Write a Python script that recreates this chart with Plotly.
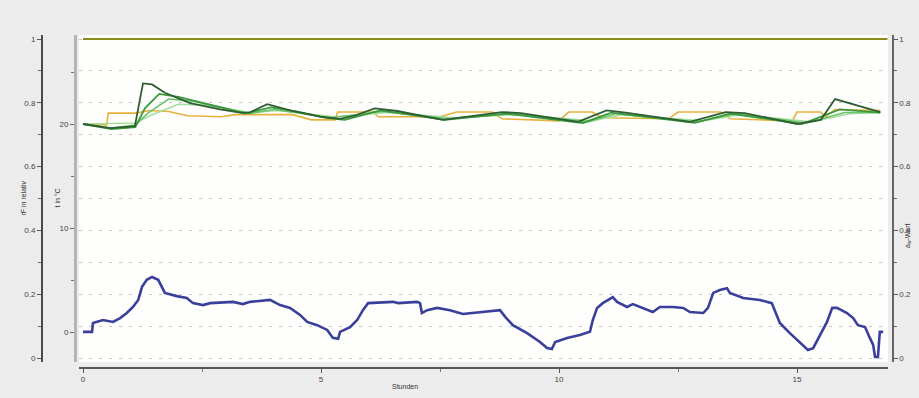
import plotly.graph_objects as go

# ---- data ------------------------------------------------------------
# time axis in hours
hours_dark = [0.0, 0.57, 1.09, 1.26, 1.45, 1.72, 2.25, 2.88, 3.3, 3.5, 3.87, 4.35, 4.98, 5.4, 5.71,
              6.13, 6.6, 7.56, 8.8, 9.2, 10.4, 11.0, 11.4, 12.75, 13.5, 13.9, 15.0, 15.5, 15.8, 16.1, 16.75]
temp_dark = [20.0, 19.6, 19.8, 23.9, 23.8, 23.0, 22.0, 21.4, 21.1, 21.1, 21.9, 21.3, 20.7, 20.5, 20.8,
             21.5, 21.25, 20.4, 21.15, 21.05, 20.2, 21.3, 21.1, 20.2, 21.15, 21.05, 20.0, 20.4, 22.4, 22.0, 21.15]

hours_mid = [0.0, 0.6, 1.1, 1.3, 1.6, 2.0, 2.9, 3.4, 3.95, 4.5, 5.1, 5.5, 6.25, 7.6, 8.9, 10.5,
             11.1, 12.85, 13.6, 15.1, 15.9, 16.75]
temp_mid = [20.0, 19.5, 19.7, 21.5, 22.9, 22.6, 21.6, 21.0, 21.6, 21.2, 20.6, 20.4, 21.3, 20.4, 21.0, 20.1,
            21.1, 20.1, 21.0, 20.0, 21.4, 21.1]

hours_light = [0.0, 0.6, 1.1, 1.35, 1.8, 2.3, 3.0, 3.5, 4.0, 5.2, 6.3, 7.7, 9.0, 10.6, 11.2, 12.9,
               13.7, 15.2, 16.0, 16.75]
temp_light = [20.0, 19.6, 19.9, 21.0, 22.4, 22.2, 21.5, 21.0, 21.4, 20.6, 21.2, 20.5, 21.0, 20.2, 21.0, 20.2,
              21.0, 20.1, 21.1, 21.1]

hours_pale = [0.0, 1.1, 1.4, 2.0, 2.6, 3.5, 4.1, 5.3, 6.4, 7.8, 9.1, 10.7, 11.3, 13.0, 13.8, 15.3, 16.1, 16.75]
temp_pale = [20.0, 20.1, 20.8, 21.9, 21.8, 21.1, 21.3, 20.7, 21.1, 20.6, 20.9, 20.3, 20.9, 20.3, 20.9, 20.2,
             21.0, 21.1]

hours_ref = [0.0, 0.5, 0.53, 1.1, 1.4, 1.8, 2.2, 2.9, 3.2, 4.4, 4.8, 5.3, 5.35, 6.1, 6.2, 7.5, 7.85, 8.6, 8.8,
             10.0, 10.2, 10.7, 10.9, 12.3, 12.5, 13.4, 13.6, 14.9, 15.0, 15.5, 15.6, 15.8, 16.75]
temp_ref = [20.0, 19.9, 21.05, 21.05, 21.3, 21.2, 20.8, 20.7, 20.9, 20.9, 20.4, 20.4, 21.15, 21.15, 20.7, 20.7,
            21.15, 21.15, 20.5, 20.3, 21.15, 21.15, 20.6, 20.5, 21.15, 21.15, 20.5, 20.3, 21.15, 21.15, 20.7,
            21.4, 21.3]

hours_blue = [0.00, 0.19, 0.21, 0.42, 0.63, 0.78, 0.92, 1.05, 1.16, 1.24, 1.34, 1.45, 1.58, 1.66, 1.72, 1.97,
              2.18, 2.31, 2.52, 2.67, 3.15, 3.36, 3.51, 3.93, 4.14, 4.35, 4.56, 4.71, 4.92, 5.13, 5.25, 5.36,
              5.40, 5.61, 5.76, 5.88, 5.99, 6.51, 6.62, 7.02, 7.08, 7.12, 7.23, 7.44, 7.71, 7.98, 8.19, 8.55,
              8.76, 8.87, 9.03, 9.33, 9.60, 9.75, 9.85, 9.92, 10.17, 10.44, 10.65, 10.71, 10.80, 10.92, 11.13,
              11.22, 11.43, 11.55, 11.76, 11.97, 12.12, 12.39, 12.61, 12.75, 13.03, 13.13, 13.24, 13.38, 13.53,
              13.59, 13.87, 14.22, 14.47, 14.54, 14.64, 14.85, 15.06, 15.23, 15.34, 15.48, 15.63, 15.74, 15.84,
              16.05, 16.18, 16.28, 16.43, 16.53, 16.60, 16.64, 16.70, 16.74, 16.81]
value_blue = [0.082, 0.082, 0.110, 0.119, 0.113, 0.125, 0.141, 0.160, 0.182, 0.223, 0.245, 0.254, 0.245, 0.223,
              0.204, 0.194, 0.188, 0.172, 0.166, 0.172, 0.176, 0.169, 0.176, 0.182, 0.166, 0.157, 0.135, 0.113,
              0.103, 0.088, 0.063, 0.060, 0.082, 0.097, 0.119, 0.150, 0.172, 0.176, 0.172, 0.176, 0.172, 0.141,
              0.150, 0.157, 0.150, 0.138, 0.141, 0.147, 0.150, 0.129, 0.103, 0.078, 0.050, 0.031, 0.028, 0.050,
              0.063, 0.072, 0.082, 0.119, 0.157, 0.172, 0.191, 0.176, 0.160, 0.169, 0.157, 0.144, 0.160, 0.160,
              0.157, 0.144, 0.141, 0.157, 0.204, 0.213, 0.219, 0.204, 0.188, 0.182, 0.172, 0.144, 0.110, 0.078,
              0.050, 0.025, 0.031, 0.072, 0.113, 0.157, 0.157, 0.141, 0.125, 0.103, 0.097, 0.063, 0.041, 0.003,
              0.003, 0.082, 0.082]

hours_limit = [0.0, 16.9]
value_limit = [1.0, 1.0]

x_ticks = [0, 5, 10, 15]
rel_ticks = [0, 0.2, 0.4, 0.6, 0.8, 1]
rel_labels = ["0", "0.2", "0.4", "0.6", "0.8", "1"]
temp_ticks = [0, 10, 20]

# ---- figure ------------------------------------------------------------
W, H = 919, 398
font = "Liberation Sans, Arial, sans-serif"
tick_font = dict(family=font, size=8, color="#444")

fig = go.Figure()

fig.add_trace(go.Scatter(x=hours_limit, y=value_limit, mode="lines", yaxis="y",
                         line=dict(color="#8c8c1e", width=2), showlegend=False))
fig.add_trace(go.Scatter(x=hours_ref, y=temp_ref, mode="lines", yaxis="y2",
                         line=dict(color="#e6b23c", width=1.6), showlegend=False))
fig.add_trace(go.Scatter(x=hours_pale, y=temp_pale, mode="lines", yaxis="y2",
                         line=dict(color="#a6dea0", width=1.6), showlegend=False))
fig.add_trace(go.Scatter(x=hours_light, y=temp_light, mode="lines", yaxis="y2",
                         line=dict(color="#6cc46a", width=1.6), showlegend=False))
fig.add_trace(go.Scatter(x=hours_mid, y=temp_mid, mode="lines", yaxis="y2",
                         line=dict(color="#3a9a3c", width=1.8), showlegend=False))
fig.add_trace(go.Scatter(x=hours_dark, y=temp_dark, mode="lines", yaxis="y2",
                         line=dict(color="#2f5e33", width=1.8), showlegend=False))
fig.add_trace(go.Scatter(x=hours_blue, y=value_blue, mode="lines", yaxis="y",
                         line=dict(color="#3b3f9c", width=2.6), showlegend=False))

# pixel geometry of the plotting area
px_x0, px_per_h = 83, 47.6
left_px, right_px = 79, 888
top_px, bot_px = 35, 362
rel0_px, rel_per = 358, 319
t0_px, t_per = 332, 10.4

x_range = [(left_px - px_x0) / px_per_h, (right_px - px_x0) / px_per_h]
rel_range = [(rel0_px - bot_px) / rel_per, (rel0_px - top_px) / rel_per]
t_range = [(t0_px - bot_px) / t_per, (t0_px - top_px) / t_per]
y_dom = [1 - bot_px / H, 1 - top_px / H]

grid = dict(showgrid=True, gridcolor="#c4c4c4", griddash="3px,7px", gridwidth=1.3)

fig.update_layout(
    width=W, height=H,
    margin=dict(l=0, r=0, t=0, b=0),
    paper_bgcolor="#ececec",
    plot_bgcolor="#fefefc",
    font=dict(family=font),
    xaxis=dict(domain=[left_px / W, right_px / W], range=x_range, anchor="free",
               position=(H - 368) / H, showline=True, linecolor="#555", linewidth=1.5,
               tickvals=x_ticks, ticks="outside", ticklen=4, tickcolor="#555",
               tickfont=tick_font, showgrid=False, zeroline=False,
               minor=dict(tickvals=[2.5, 7.5, 12.5], ticks="outside", ticklen=3, tickcolor="#777")),
    yaxis=dict(domain=y_dom, range=rel_range, anchor="free", position=42 / W, side="left",
               showline=True, linecolor="#4a4a4a", linewidth=2,
               tickvals=rel_ticks, ticktext=rel_labels, ticks="outside", ticklen=4, tickcolor="#555",
               tickfont=tick_font, zeroline=False,
               minor=dict(dtick=0.1, tick0=0, ticks="outside", ticklen=3, tickcolor="#666", **grid),
               **grid),
    yaxis2=dict(domain=y_dom, range=t_range, overlaying="y", anchor="free", position=75 / W,
                side="left", showline=True, linecolor="#b4b4b4", linewidth=3,
                tickvals=temp_ticks, ticks="outside", ticklen=4, tickcolor="#666",
                tickfont=tick_font, showgrid=False, zeroline=False,
                minor=dict(tickvals=[5, 15, 25], ticks="outside", ticklen=3, tickcolor="#777")),
    yaxis3=dict(domain=y_dom, range=rel_range, overlaying="y", anchor="free", position=893 / W,
                side="right", showline=True, linecolor="#666", linewidth=1.5,
                tickvals=rel_ticks, ticktext=rel_labels, ticks="outside", ticklen=4, tickcolor="#555",
                tickfont=tick_font, showgrid=False, zeroline=False,
                minor=dict(dtick=0.1, tick0=0, ticks="outside", ticklen=3, tickcolor="#666")),
)

# invisible trace so the right-hand axis is drawn
fig.add_trace(go.Scatter(x=[0], y=[0], yaxis="y3", mode="markers",
                         marker=dict(opacity=0), showlegend=False, hoverinfo="skip"))

label_font = dict(family=font, size=7, color="#333")
fig.add_annotation(x=405 / W, y=1 - 392 / H, xref="paper", yref="paper", text="Stunden",
                   showarrow=False, font=label_font)
fig.add_annotation(x=17 / W, y=1 - 198 / H, xref="paper", yref="paper", text="rF in relativ",
                   showarrow=False, textangle=-90, font=label_font)
fig.add_annotation(x=51 / W, y=1 - 198 / H, xref="paper", yref="paper", text="t in °C",
                   showarrow=False, textangle=-90, font=label_font)
fig.add_annotation(x=914 / W, y=1 - 236 / H, xref="paper", yref="paper", text="a<sub>w</sub>-Wert",
                   showarrow=False, textangle=-90, font=label_font)

fig.write_html("out.html")
